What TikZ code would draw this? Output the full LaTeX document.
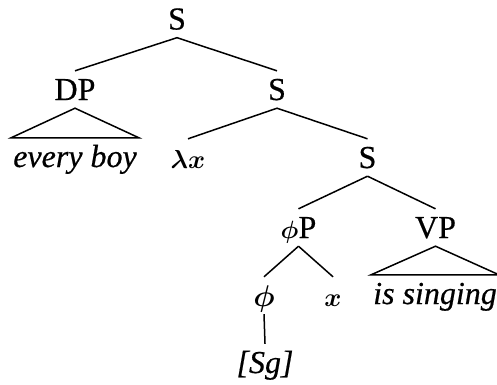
\documentclass[tikz,border=0pt]{standalone}
\usepackage{graphicx}
\usepackage{fontspec}
\setmainfont{Liberation Serif}[UprightFeatures={FakeBold=0.5}, ItalicFeatures={FakeBold=0.5}]
\tikzset{
  lab/.style={anchor=base, text height=21pt, text depth=0pt, inner ysep=8pt, inner xsep=0pt, font=\fontsize{32}{38}\selectfont},
  tri/.style={lab, inner xsep=2pt},
  br/.style={line width=1.5pt},
}
\newcommand{\mth}[2]{\scalebox{#1}{\fontsize{10}{12}\selectfont\boldmath$#2$}}
\begin{document}
\begin{tikzpicture}[x=1pt,y=-1pt]
\useasboundingbox (0,0) rectangle (497,384);
\node[lab] (s0) at (177,29.5) {S};
\node[lab] (dp) at (75,100) {DP};
\node[lab] (s1) at (277,100) {S};
\node[tri] (eb) at (75,167) {\itshape every boy};
\node[lab] (lx) at (188,168) {\mth{2.6}{\lambda x}};
\node[lab] (s2) at (367.5,168) {S};
\node[lab] (phip) at (298.5,238) {\mth{2.5}{\phi}P};
\node[lab] (vp) at (435.5,238) {VP};
\node[lab] (phi) at (264,306) {\mth{3.0}{\phi}};
\node[lab] (xx) at (333,306) {\mth{2.6}{x}};
\node[tri] (is) at (435,304) {\itshape is singing};
\node[lab] (sg) at (265,373) {\itshape [Sg]};
\draw[br] (s0.south) -- (dp.north);
\draw[br] (s0.south) -- (s1.north);
\draw[br] (dp.south) -- (eb.north west) -- (eb.north east) -- cycle;
\draw[br] (s1.south) -- (lx.north);
\draw[br] (s1.south) -- (s2.north);
\draw[br] (s2.south) -- (phip.north);
\draw[br] (s2.south) -- (vp.north);
\draw[br] (phip.south) -- (phi.north);
\draw[br] (phip.south) -- (xx.north);
\draw[br] (vp.south) -- (is.north west) -- (is.north east) -- cycle;
\draw[br] (phi.south) -- (sg.north);
\end{tikzpicture}
\end{document}
